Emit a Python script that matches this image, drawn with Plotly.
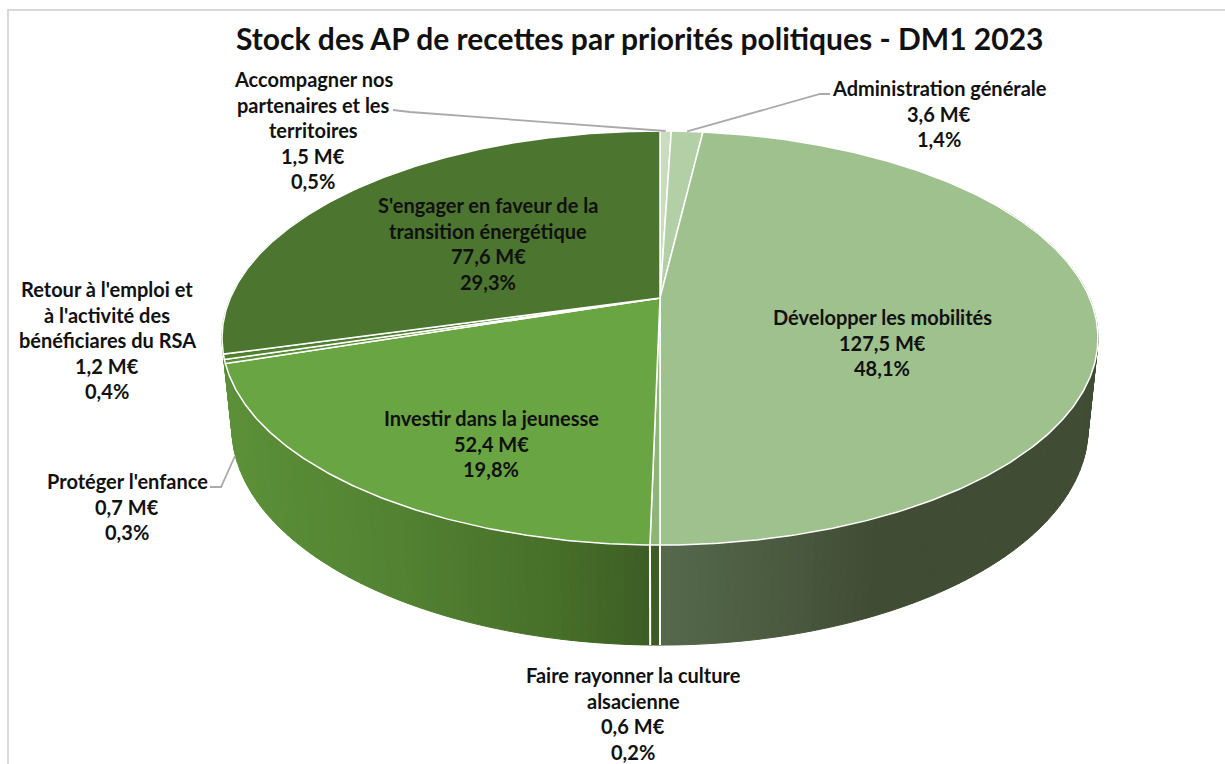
import numpy as np
import plotly.graph_objects as go

categories = ["Accompagner nos partenaires et les territoires", "Administration générale",
              "Développer les mobilités", "Faire rayonner la culture alsacienne",
              "Investir dans la jeunesse", "Protéger l'enfance",
              "Retour à l'emploi et à l'activité des bénéficiares du RSA",
              "S'engager en faveur de la transition énergétique"]
values_meur = [1.5, 3.6, 127.5, 0.6, 52.4, 0.7, 1.2, 77.6]
percents = [0.5, 1.4, 48.1, 0.2, 19.8, 0.3, 0.4, 29.3]
# slice sizes as they are drawn in the picture (the printed labels are rounded)
drawn_shares = [0.5, 1.4, 48.1, 0.3, 19.7, 0.3, 0.4, 29.3]
slice_colors = ["#c9dcc0", "#b3cfa6", "#9fc18d", "#8db577", "#6aa543", "#5c9038", "#4f7f30", "#4c752f"]
title_text = "Stock des AP de recettes par priorités politiques - DM1 2023"

FONT = "Lato"
CX = 660.0
K = 0.1933
TOP = dict(apex=298.0, A=199.3, B=429.7)
BOT = dict(apex=386.0, A=209.0, B=420.0)


def project(theta, disc):
    u, v = np.sin(theta), np.cos(theta)
    d = 1 + K * v
    return CX + disc["B"] * u / d, disc["apex"] - disc["A"] * v / d


def mix(stops, pos):
    xs = [s[0] for s in stops]
    rgb = [np.interp(pos, xs, [s[1][i] for s in stops]) for i in range(3)]
    return "rgb(%d,%d,%d)" % tuple(int(round(c)) for c in rgb)


RIGHT_WALL = [(660, (86, 105, 75)), (780, (74, 90, 63)), (870, (65, 76, 53)), (1100, (65, 76, 53))]
LEFT_WALL = [(225, (92, 144, 56)), (400, (82, 130, 50)), (560, (70, 110, 40)), (655, (60, 92, 36))]

fig = go.Figure()

edges = np.concatenate([[0.0], np.cumsum(drawn_shares)]) / sum(drawn_shares) * 2 * np.pi

# side wall, in narrow strips so that it shades across its width
strips = np.radians(np.arange(60.0, 300.0, 1.0))
for a, b in zip(strips[:-1], strips[1:]):
    xt, yt = project(np.array([a, b]), TOP)
    xb, yb = project(np.array([b, a]), BOT)
    mid = (xt.mean() + xb.mean()) / 2
    col = mix(RIGHT_WALL, mid) if (a + b) / 2 < np.pi else mix(LEFT_WALL, mid)
    fig.add_trace(go.Scatter(x=np.r_[xt, xb, xt[0]], y=np.r_[yt, yb, yt[0]], mode="lines", fill="toself",
                             fillcolor=col, line=dict(color=col, width=1), hoverinfo="skip", showlegend=False))

# white seams on the visible part of the wall
for e in edges[1:-1]:
    if np.cos(e) < -0.6:
        xt, yt = project(np.array([e]), TOP)
        xb, yb = project(np.array([e]), BOT)
        fig.add_trace(go.Scatter(x=[xt[0], xb[0]], y=[yt[0], yb[0]], mode="lines",
                                 line=dict(color="white", width=2), hoverinfo="skip", showlegend=False))

# top face
for name, a, b, col in zip(categories, edges[:-1], edges[1:], slice_colors):
    t = np.linspace(a, b, max(int((b - a) * 120), 2))
    xr, yr = project(t, TOP)
    xa, ya = project(np.array([0.0]), dict(TOP, B=0, A=0))
    fig.add_trace(go.Scatter(x=np.r_[xa, xr, xa], y=np.r_[ya, yr, ya], mode="lines", fill="toself",
                             fillcolor=col, line=dict(color="white", width=1.5), name=name, showlegend=False))

# leader lines, from the label to the slice it names
mids = (edges[:-1] + edges[1:]) / 2
leaders = {0: ([393, 410], [110, 112]), 1: ([830, 820], [94, 94]), 5: ([210, 221], [487, 487])}
targets = {0: project(mids[0], TOP), 1: project(mids[1], TOP), 5: (235.0, 456.0)}
for i, (lx, ly) in leaders.items():
    tx, ty = targets[i]
    fig.add_trace(go.Scatter(x=lx + [float(tx)], y=ly + [float(ty)], mode="lines",
                             line=dict(color="#aaaaaa", width=1.8), hoverinfo="skip", showlegend=False))


def fr(v):
    return f"{v:.1f}".replace(".", ",")


name_lines = [["Accompagner nos", "partenaires et les", "territoires"], ["Administration générale"],
              ["Développer les mobilités"], ["Faire rayonner la culture", "alsacienne"],
              ["Investir dans la jeunesse"], ["Protéger l'enfance"],
              ["Retour à l'emploi et", "à l'activité des", "bénéficiares du RSA"],
              ["S'engager en faveur de la", "transition énergétique"]]
label_centers = [(313, 79), (939, 88), (882, 317), (633, 675), (491, 418), (127, 481), (107, 289), (488, 205)]
LINE = 25.6
annotations = []
for lines, v, p, (lx, ly) in zip(name_lines, values_meur, percents, label_centers):
    for j, s in enumerate(lines + [f"{fr(v)} M€", f"{fr(p)}%"]):
        annotations.append(dict(x=lx, y=ly + j * LINE, text=f"<b>{s}</b>", showarrow=False, xanchor="center",
                                yanchor="middle", font=dict(family=FONT, size=20, color="#111111")))
annotations.append(dict(x=639, y=38, text=f"<b>{title_text}</b>", showarrow=False, xanchor="center", yanchor="middle",
                        font=dict(family=FONT, size=30, color="#111111")))

fig.update_layout(
    width=1225, height=764, margin=dict(l=0, r=0, t=0, b=0), paper_bgcolor="white", plot_bgcolor="white",
    xaxis=dict(range=[0, 1225], visible=False, fixedrange=True),
    yaxis=dict(range=[764, 0], visible=False, fixedrange=True),
    annotations=annotations, showlegend=False,
    shapes=[dict(type="rect", xref="x", yref="y", x0=8, y0=10, x1=1300, y1=800,
                 line=dict(color="#d9d9d9", width=2), fillcolor="rgba(0,0,0,0)", layer="below")],
)
fig.write_html("out.html", config={"displayModeBar": False},
               post_script="document.body.style.margin='0';document.body.style.overflow='hidden';")
